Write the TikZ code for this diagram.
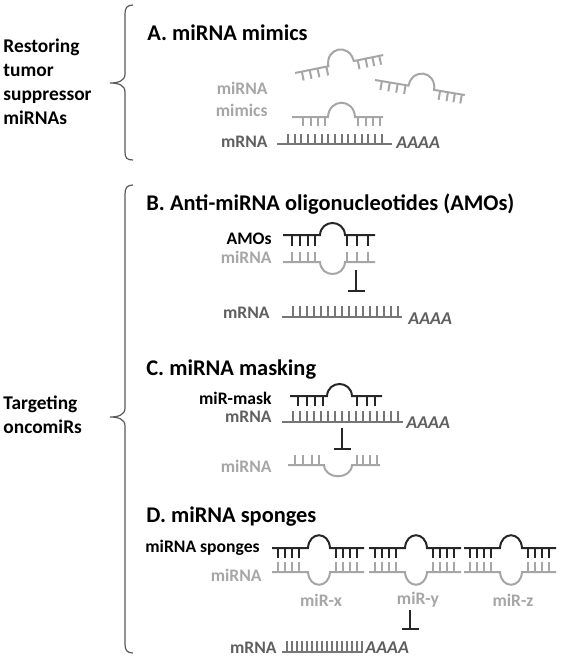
\documentclass[tikz,border=0pt]{standalone}
\usepackage{fontspec}
\setmainfont{Carlito}
\usetikzlibrary{arrows.meta,positioning}
\definecolor{mirgray}{HTML}{A6A6A6}
\definecolor{mrnagray}{HTML}{767676}
\definecolor{labgray}{HTML}{5F5F5F}
\definecolor{bracegray}{HTML}{595959}
\begin{document}
\begin{tikzpicture}[x=0.5pt,y=-0.5pt,
  every node/.style={font=\bfseries\fontsize{8.8}{10}\selectfont, inner sep=0pt},
  head/.style={font=\bfseries\fontsize{11.2}{13}\selectfont, anchor=west},
  side/.style={font=\bfseries\fontsize{9.7}{12}\selectfont, anchor=west, align=left},
  lab/.style={anchor=east},
  mir/.style={draw=mirgray, line width=1pt},
  mrna/.style={draw=mrnagray, line width=1pt},
  anti/.style={draw=black!85, line width=1pt},
  brace/.style={draw=bracegray, line width=0.6pt},
  inhibit/.style={draw=black!85, line width=1pt, -{Bar[width=8.5pt]}},
  poly/.style={anchor=west, text=labgray, font=\bfseries\itshape\fontsize{9}{11}\selectfont}]
\useasboundingbox (0,0) rectangle (561,660);

% left side
\node[side] (restore) at (3,82) {Restoring\\tumor\\suppressor\\miRNAs};
\node[side] (target) at (3,415) {Targeting\\oncomiRs};
\draw[brace] (133,5) .. controls (127,5) and (125,8) .. (125,14) -- (125,74)
  .. controls (125,81) and (118,83) .. (110,83) .. controls (118,83) and (125,85) .. (125,92)
  -- (125,152) .. controls (125,158) and (127,160) .. (133,160);
\draw[brace] (133,185) .. controls (127,185) and (125,188) .. (125,194) -- (125,408)
  .. controls (125,415) and (118,417) .. (110,417) .. controls (118,417) and (125,419) .. (125,426)
  -- (125,644) .. controls (125,650) and (127,653) .. (133,653);

% A. mimics
\node[head] (hA) at (147,33) {A. miRNA mimics};
\node[lab, text=mirgray] (mimA) at (268,88) {miRNA};
\node[lab, text=mirgray] (mimB) at (268,110) {mimics};
\node[lab, text=labgray] (mrnaA) at (268,142) {mRNA};
\begin{scope}[shift={(295,73)},rotate=11.5]
  \draw[mir] (0,0) -- (34,0) .. controls (35,-19) and (59,-19) .. (60,0) -- (90,0);
  \foreach \t in {7,15,23,32,64,72,79,86} \draw[mir] (\t,0) -- (\t,9);
\end{scope}
\begin{scope}[shift={(375,80)},rotate=-9.5]
  \draw[mir] (0,0) -- (34,0) .. controls (35,-19) and (59,-19) .. (60,0) -- (91,0);
  \foreach \t in {7,15,23,31,66,74,81,88} \draw[mir] (\t,0) -- (\t,9);
\end{scope}
\begin{scope}[shift={(292,117)}]
  \draw[mir] (0,0) -- (36,0) .. controls (37,-19) and (62,-19) .. (63,0) -- (91,0);
  \foreach \t in {11,19,26,33,66,74,81,88} \draw[mir] (\t,0) -- (\t,9);
\end{scope}
\draw[mrna] (277,144) -- (392,144);
\foreach \i in {0,...,14} \draw[mrna] (288+6.7*\i,144) -- (288+6.7*\i,134);
\node[poly] (polyA) at (396,143) {AAAA};

% B. AMOs
\node[head] (hB) at (146,204) {B. Anti-miRNA oligonucleotides (AMOs)};
\node[lab] (amo) at (272,239) {AMOs};
\node[lab, text=mirgray] (mirB) at (272,257) {miRNA};
\node[lab, text=labgray] (mrnaB) at (270,313) {mRNA};
\begin{scope}[shift={(283,235)}]
  \draw[anti] (0,0) -- (37,0) .. controls (38,-16) and (61,-16) .. (62,0) -- (92,0);
  \foreach \t in {9,17,25,32,64,74,85} \draw[anti] (\t,0) -- (\t,11);
  \draw[mir] (0,27) -- (37,27) .. controls (38,43) and (61,43) .. (62,27) -- (92,27);
  \foreach \t in {9,17,25,32,64,74,85} \draw[mir] (\t,27) -- (\t,17);
\end{scope}
\coordinate (inB) at (356,270);
\coordinate (outB) at (356,292);
\draw[inhibit] (inB) -- (outB);
\draw[mrna] (282,317) -- (402,317);
\foreach \i in {0,...,15} \draw[mrna] (293+7*\i,317) -- (293+7*\i,306);
\node[poly] (polyB) at (408,319) {AAAA};

% C. masking
\node[head] (hC) at (146,370) {C. miRNA masking};
\node[lab] (mask) at (272,398) {miR-mask};
\node[lab, text=labgray] (mrnaC) at (272,417) {mRNA};
\node[lab, text=mirgray] (mirC) at (272,466) {miRNA};
\begin{scope}[shift={(290,396)}]
  \draw[anti] (0,0) -- (37,0) .. controls (38,-16) and (61,-16) .. (62,0) -- (92,0);
  \foreach \t in {8,17,25,33,67,77,85} \draw[anti] (\t,0) -- (\t,10);
\end{scope}
\draw[mrna] (282,422) -- (403,422);
\foreach \i in {0,...,15} \draw[mrna] (293+7*\i,422) -- (293+7*\i,411);
\node[poly] (polyC) at (406,423) {AAAA};
\coordinate (inC) at (342,428);
\coordinate (outC) at (342,450);
\draw[inhibit] (inC) -- (outC);
\begin{scope}[shift={(288,465)}]
  \draw[mir] (0,0) -- (36,0) .. controls (37,15) and (63,15) .. (64,0) -- (92,0);
  \foreach \t in {7,15,24,31,69,75,82,89} \draw[mir] (\t,0) -- (\t,-10);
\end{scope}

% D. sponges
\node[head] (hD) at (146,517) {D. miRNA sponges};
\node[lab] (sponge) at (260,548) {miRNA sponges};
\node[lab, text=mirgray] (mirD) at (262,575) {miRNA};
\node[lab, text=labgray] (mrnaD) at (277,648) {mRNA};
\foreach \ux/\nm in {272/x,369/y,464/z}{
  \begin{scope}[shift={(\ux,548)}]
    \draw[anti] (0,0) -- (36,0) .. controls (37,-17) and (57,-17) .. (58,0) -- (92,0);
    \foreach \t in {6,13,20,27,64,71,78,85} \draw[anti] (\t,0) -- (\t,10);
    \draw[mir] (0,24) -- (36,24) .. controls (37,41) and (57,41) .. (58,24) -- (92,24);
    \foreach \t in {6,13,20,27,64,71,78,85} \draw[mir] (\t,24) -- (\t,14);
    \node[text=mirgray] (mir\nm) at (49,52) {miR-\nm};
  \end{scope}
}
\coordinate (inD) at (410,610);
\coordinate (outD) at (410,630);
\draw[inhibit] (inD) -- (outD);
\draw[mrna] (282,652) -- (363,652);
\foreach \i in {0,...,15} \draw[mrna] (287+5*\i,652) -- (287+5*\i,641);
\node[poly] (polyD) at (365,648) {AAAA};
\end{tikzpicture}
\end{document}
